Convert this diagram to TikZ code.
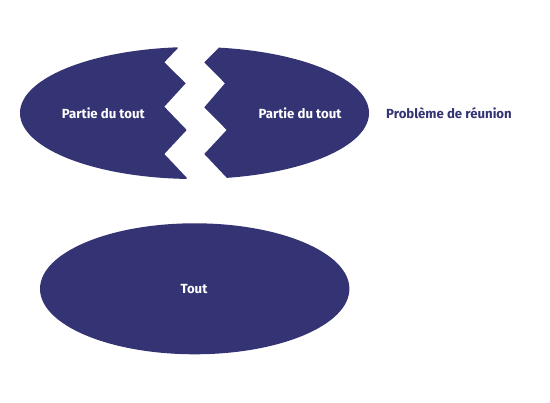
\documentclass[tikz,border=0pt]{standalone}
\usepackage{fontspec}
\setmainfont{Fira Sans}
\definecolor{navy}{HTML}{343374}
\tikzset{
  lbl/.style={text=white, font=\fontsize{13.2}{15}\selectfont\bfseries, inner sep=0pt},
  side/.style={text=navy, font=\fontsize{13.2}{15}\selectfont\bfseries, inner sep=0pt, anchor=west}
}
\begin{document}
\begin{tikzpicture}[x=1pt,y=-1pt]
\useasboundingbox (0,0) rectangle (550,403);
% left part of the split ellipse
\begin{scope}
\clip (0,0) -- (177.7,0) -- (177.7,48.3) -- (164.3,62.3) -- (185.7,83.3) -- (164.3,106.7)
  -- (186.7,130) -- (164.3,154) -- (186.7,177.7) -- (186.7,200) -- (0,200) -- cycle;
\fill[navy] (194.5,113) ellipse [x radius=174.5, y radius=66];
\end{scope}
% right part of the split ellipse
\begin{scope}
\clip (218.3,0) -- (218.3,48.3) -- (204.3,62.3) -- (225,83.3) -- (204.3,107.3)
  -- (226.7,130) -- (204.3,154) -- (226.7,177.7) -- (226.7,200) -- (550,200) -- (550,0) -- cycle;
\fill[navy] (194.5,113) ellipse [x radius=174.5, y radius=66];
\end{scope}
% whole
\fill[navy] (194.7,288.8) ellipse [x radius=154.7, y radius=65.5];
\node[lbl] (p1) at (103.3,113) {Partie du tout};
\node[lbl] (p2) at (300,113) {Partie du tout};
\node[lbl] (t) at (194,289) {Tout};
\node[side] (pb) at (386,113) {Problème de réunion};
\end{tikzpicture}
\end{document}
